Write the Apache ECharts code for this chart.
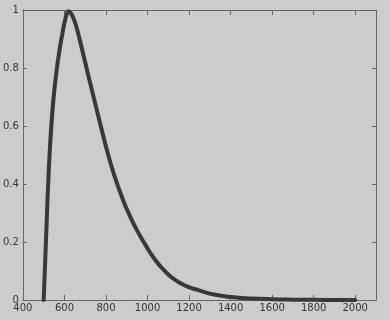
<!DOCTYPE html>
<html><head><meta charset="utf-8">
<script src="https://cdn.jsdelivr.net/npm/echarts@6/dist/echarts.min.js"></script>
<style>html,body{margin:0;padding:0;background:#cccccc;}#c{width:390px;height:320px;}</style>
</head><body><div id="c"></div>
<script>
const xValues = [500, 507, 514, 521, 529, 538, 548, 562, 577, 590, 600, 610, 620, 630, 642, 655, 670, 687, 708, 730, 752, 777, 806, 840, 882, 915, 949, 990, 1035, 1080, 1131, 1190, 1245, 1320, 1403, 1500, 1600, 1700, 1800, 1900, 2000];
const yValues = [0, 0.13, 0.26, 0.39, 0.51, 0.61, 0.70, 0.79, 0.865, 0.918, 0.955, 0.983, 0.996, 0.99, 0.974, 0.948, 0.908, 0.858, 0.795, 0.73, 0.666, 0.594, 0.513, 0.43, 0.345, 0.29, 0.241, 0.19, 0.140, 0.102, 0.070, 0.047, 0.034, 0.019, 0.010, 0.005, 0.0025, 0.0012, 0.0005, 0.0002, 0];
const xTickLabels = ['400','600','800','1000','1200','1400','1600','1800','2000'];
const yTickLabels = ['0','0.2','0.4','0.6','0.8','1'];

const chart = echarts.init(document.getElementById('c'));
const axisCol = '#666666';
const textCol = '#333333';
const baseX = {
  type: 'value', min: 400, max: 2100, interval: 200,
  axisLine: {show: true, onZero: false, lineStyle: {color: axisCol, width: 1}},
  axisTick: {show: true, inside: true, length: 5, lineStyle: {color: axisCol}},
  splitLine: {show: false}
};
const baseY = {
  type: 'value', min: 0, max: 1, interval: 0.2,
  axisLine: {show: true, onZero: false, lineStyle: {color: axisCol, width: 1}},
  axisTick: {show: true, inside: true, length: 4, lineStyle: {color: axisCol}},
  splitLine: {show: false}
};
chart.setOption({
  backgroundColor: '#cccccc',
  animation: false,
  grid: {left: 20, right: 14, top: 10, bottom: 20, containLabel: false},
  xAxis: [
    Object.assign({}, baseX, {position: 'bottom',
      axisLabel: {show: true, showMaxLabel: false, color: textCol, fontSize: 10, fontFamily: 'DejaVu Sans', margin: 3,
        formatter: v => { const s = String(v); return xTickLabels.includes(s) ? s : ''; }}}),
    Object.assign({}, baseX, {position: 'top', axisLabel: {show: false}})
  ],
  yAxis: [
    Object.assign({}, baseY, {position: 'left',
      axisLabel: {show: true, color: textCol, fontSize: 10, fontFamily: 'DejaVu Sans', margin: 4,
        formatter: v => { const s = String(+v.toFixed(1)); return yTickLabels.includes(s) ? s : ''; }}}),
    Object.assign({}, baseY, {position: 'right', axisLabel: {show: false}})
  ],
  series: [{
    type: 'line', xAxisIndex: 0, yAxisIndex: 0,
    data: xValues.map((x, i) => [x, yValues[i]]),
    smooth: 0.5, showSymbol: false,
    lineStyle: {color: '#383838', width: 4, cap: 'round', join: 'round'}
  }]
});
</script></body></html>
